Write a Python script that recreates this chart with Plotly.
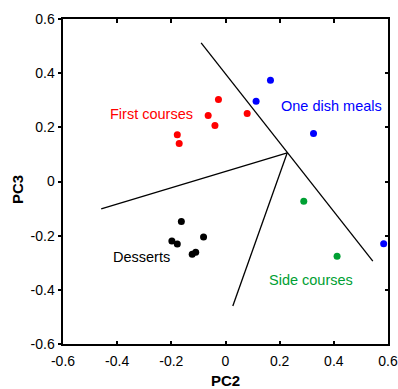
import plotly.graph_objects as go

# Data (PC2, PC3 scores)
first_x = [-0.178, -0.171, -0.026, -0.064, -0.039, 0.080]
first_y = [0.173, 0.140, 0.303, 0.244, 0.207, 0.251]
one_x = [0.166, 0.113, 0.325, 0.584]
one_y = [0.374, 0.296, 0.177, -0.230]
side_x = [0.289, 0.412]
side_y = [-0.073, -0.276]
dess_x = [-0.163, -0.198, -0.178, -0.123, -0.110, -0.081]
dess_y = [-0.148, -0.220, -0.231, -0.269, -0.261, -0.205]

# Boundary lines (segments)
seg_a_x = [-0.090, 0.544]
seg_a_y = [0.512, -0.294]
center_x = 0.228
center_y = 0.106
seg_b_end = (-0.459, -0.101)
seg_c_end = (0.027, -0.460)

labels = ["First courses", "One dish meals", "Desserts", "Side courses"]
label_x = [-0.274, 0.39, -0.311, 0.314]
label_y = [0.251, 0.278, -0.279, -0.364]
GREEN = "#00A033"
label_colors = ["#FF0000", "#0000FF", "#000000", GREEN]

ticks = [-0.6, -0.4, -0.2, 0, 0.2, 0.4, 0.6]
tick_text = ["-0.6", "-0.4", "-0.2", "0", "0.2", "0.4", "0.6"]

L, R, T, B = 63, 388, 19, 344
W, H = 398, 389

fig = go.Figure()

line_style = dict(color="black", width=1.3)
fig.add_trace(go.Scatter(x=seg_a_x, y=seg_a_y, mode="lines", line=line_style, showlegend=False, hoverinfo="skip"))
fig.add_trace(go.Scatter(x=[center_x, seg_b_end[0]], y=[center_y, seg_b_end[1]], mode="lines", line=line_style, showlegend=False, hoverinfo="skip"))
fig.add_trace(go.Scatter(x=[center_x, seg_c_end[0]], y=[center_y, seg_c_end[1]], mode="lines", line=line_style, showlegend=False, hoverinfo="skip"))

for xs, ys, c in [(first_x, first_y, "#FF0000"), (one_x, one_y, "#0000FF"),
                  (side_x, side_y, GREEN), (dess_x, dess_y, "#000000")]:
    fig.add_trace(go.Scatter(x=xs, y=ys, mode="markers", marker=dict(color=c, size=7),
                             showlegend=False, cliponaxis=False))

# invisible trace for right axis
fig.add_trace(go.Scatter(x=[0], y=[0], yaxis="y2", mode="markers", marker=dict(opacity=0), showlegend=False, hoverinfo="skip"))

for t, x, y, c in zip(labels, label_x, label_y, label_colors):
    fig.add_annotation(x=x, y=y, text=t, showarrow=False, font=dict(color=c, size=14.5, family="Liberation Sans, Arial"))

def px_to_paper(px, py):
    return (px - L) / (R - L), (B - py) / (B - T)

px3 = px_to_paper(17, 190)
fig.add_annotation(x=px3[0], y=px3[1], xref="paper", yref="paper", text="<b>PC3</b>", showarrow=False,
                   xanchor="center", yanchor="middle", textangle=-90, font=dict(size=15))
px2 = px_to_paper(225.5, 380)
fig.add_annotation(x=px2[0], y=px2[1], xref="paper", yref="paper", text="<b>PC2</b>", showarrow=False,
                   xanchor="center", yanchor="middle", font=dict(size=15))

axis_common = dict(range=[-0.6, 0.6], tickvals=ticks, ticklen=3.5, tickwidth=1.5, tickcolor="black",
                   showline=True, linecolor="black", linewidth=2, showgrid=False, zeroline=False,
                   automargin=False)

fig.update_layout(
    width=W, height=H,
    margin=dict(l=L, r=W - R, t=T, b=H - B),
    plot_bgcolor="white", paper_bgcolor="white",
    font=dict(family="Liberation Sans, Arial", size=14, color="black"),
    xaxis=dict(**axis_common, ticktext=tick_text, ticks="inside", mirror="ticks", ticklabelstandoff=3),
    yaxis=dict(**axis_common, ticktext=tick_text, ticks="outside"),
    yaxis2=dict(**axis_common, overlaying="y", side="right", ticks="inside", showticklabels=False),
)

fig.write_html("out.html")
